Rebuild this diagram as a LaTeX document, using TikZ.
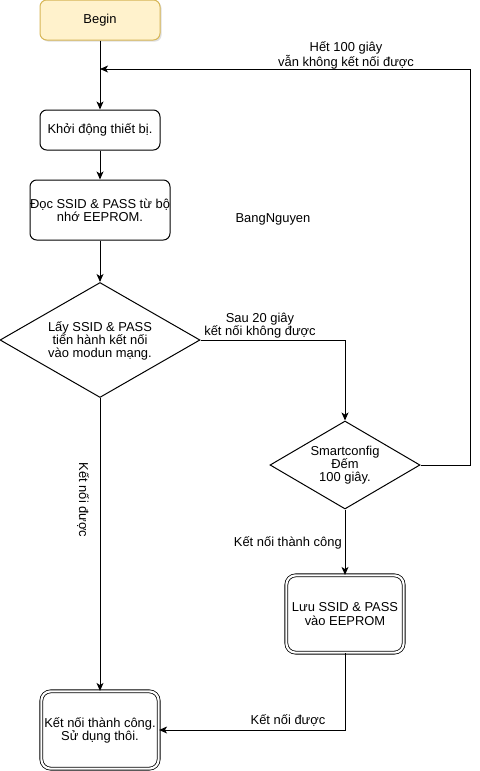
\documentclass[tikz,border=0pt]{standalone}
\usepackage{fontspec}
\setmainfont{Liberation Sans}
\usetikzlibrary{arrows.meta,shapes.geometric,shadows}
\definecolor{beginfill}{HTML}{FFF2CC}
\definecolor{begindraw}{HTML}{D6B656}
\begin{document}
\begin{tikzpicture}[x=0.75pt,y=-0.75pt,
  every node/.style={font=\fontsize{9.7pt}{9.9pt}\selectfont},
  proc/.style={draw=black, line width=0.75pt, rounded corners=5pt, align=center, inner sep=0pt},
  startbox/.style={proc, draw=begindraw, fill=beginfill,
     drop shadow={opacity=0.25, shadow xshift=1.2pt, shadow yshift=-1.2pt}},
  dbl/.style={draw=black, double=white, double distance=1.6pt, line width=0.6pt,
     rounded corners=7pt, align=center, inner sep=0pt},
  dia/.style={draw=black, line width=0.75pt, diamond, inner sep=0pt},
  txt/.style={align=center, inner sep=0pt},
  conn/.style={line width=0.75pt, -{Stealth[length=6pt,width=5.2pt,inset=1.6pt]}},
  line/.style={line width=0.75pt}
]
\useasboundingbox (0,0) rectangle (479,771);

\node[startbox, minimum width=90pt, minimum height=30pt] (begin) at (100,20) {Begin};
\node[proc, minimum width=90pt, minimum height=30pt] (khoi) at (100,130) {Khởi động thiết bị.};
\node[proc, minimum width=105pt, minimum height=45pt] (doc) at (100,210) {Đọc SSID \& PASS từ bộ\\nhớ EEPROM.};
\node[dia, minimum width=150pt, minimum height=86.25pt] (d1) at (100,340) {};
\node[txt] (d1t) at (100,341) {Lấy SSID \& PASS\\tiến hành kết nối\\vào modun mạng.};
\node[dia, minimum width=112.5pt, minimum height=66pt] (d2) at (345,465) {};
\node[txt] (d2t) at (345,465) {Smartconfig\\Đếm\hspace*{15pt}\\ 100 giây.};
\node[dbl, minimum width=88pt, minimum height=58pt] (luu) at (345,614) {Lưu SSID \& PASS\\vào EEPROM};
\node[dbl, minimum width=88pt, minimum height=58pt] (final) at (100,730) {Kết nối thành công.\\Sử dụng thôi.};

\node[txt] (bang) at (273,219) {BangNguyen};
\node[txt] (lbl1) at (346,55) {Hết 100 giây\\vẫn không kết nối được};
\node[txt] (lbl2) at (260,326) {Sau 20 giây\\kết nối không được};
\node[txt, rotate=-90] (lbl3) at (83,500) {Kết nối được};
\node[txt, anchor=east] (lbl4) at (342,543) {Kết nối thành công};
\node[txt] (lbl5) at (288,721) {Kết nối được};

\coordinate (merge) at (100,69);

\draw[conn] (begin.south) -- (khoi.north);
\draw[conn] (khoi.south) -- (doc.north);
\draw[conn] (doc.south) -- (d1.north);
\draw[conn] (d1.east) -| (d2.north);
\draw[conn] (d2.east) -- ++(50,0) |- (merge);
\draw[conn] (d1.south) -- (final.north);
\draw[conn] (d2.south) -- (luu.north);
\draw[conn] (luu.south) |- (final.east);
\end{tikzpicture}
\end{document}
